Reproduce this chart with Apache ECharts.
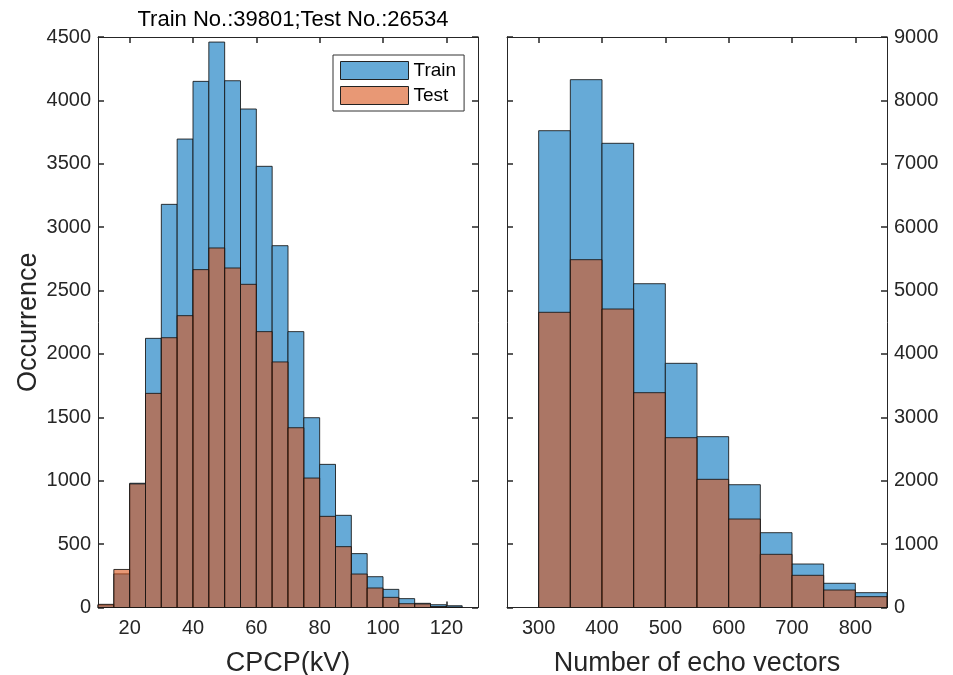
<!DOCTYPE html>
<html>
<head>
<meta charset="utf-8">
<script src="https://cdn.jsdelivr.net/npm/echarts@6/dist/echarts.min.js"></script>
<style>html,body{margin:0;padding:0;background:#fff}#c{width:953px;height:675px}</style>
</head>
<body>
<div id="c"></div>
<script>
// ---- data ----
var titleText = 'Train No.:39801;Test No.:26534';
var cpcpEdges = [10,15,20,25,30,35,40,45,50,55,60,65,70,75,80,85,90,95,100,105,110,115,120,125];
var cpcpTrain = [20,265,980,2123,3180,3695,4150,4460,4155,3932,3480,2854,2176,1497,1129,727,425,243,143,70,33,22,14];
var cpcpTest  = [25,300,975,1689,2128,2302,2665,2836,2678,2549,2176,1937,1418,1021,719,480,264,154,80,30,28,8,4];
var echoEdges = [300,350,400,450,500,550,600,650,700,750,800,850];
var echoTrain = [7522,8327,7323,5108,3852,2695,1937,1180,686,382,234];
var echoTest  = [4657,5487,4709,3389,2679,2022,1396,839,508,276,171];
var cpcpTicks = [20,40,60,80,100,120];
var echoTicks = [300,400,500,600,700,800];

function toBins(edges, counts){
  var out=[]; for(var i=0;i<counts.length;i++){ out.push([edges[i],edges[i+1],counts[i]]); } return out;
}
var AX='#262626';
var FONT='"Liberation Sans", Arial, Helvetica, sans-serif';
var trainFill='rgb(102,170,215)';
var testFill='rgba(217,83,25,0.6)';
var edge='rgba(20,20,20,0.85)';
function plain(v){ return String(v); }

function render(fill){
  return function(params, api){
    var x0=api.value(0), x1=api.value(1), v=api.value(2);
    var p0=api.coord([x0,v]); var p1=api.coord([x1,0]);
    return {type:'rect', shape:{x:p0[0], y:p0[1], width:p1[0]-p0[0], height:p1[1]-p0[1]},
      style:{fill:fill, stroke:edge, lineWidth:1}};
  };
}
function xAx(grid, min, max, ticks, pos, labels, name){
  return {type:'value', gridIndex:grid, position:pos, min:min, max:max,
    axisLine:{show:true, onZero:false, lineStyle:{color:AX, width:1}},
    axisTick:{show:true, inside:true, length:6, customValues:ticks, lineStyle:{color:AX, width:1.5}},
    axisLabel:{show:labels, customValues:ticks, formatter:plain, color:AX, fontSize:20, fontFamily:FONT, margin:11},
    splitLine:{show:false},
    name:name||'', nameLocation:'middle', nameGap:43,
    nameTextStyle:{color:AX, fontSize:27, fontFamily:FONT}};
}
function yAx(grid, max, interval, pos, labels, name){
  return {type:'value', gridIndex:grid, position:pos, min:0, max:max, interval:interval,
    axisLine:{show:true, onZero:false, lineStyle:{color:AX, width:1}},
    axisTick:{show:true, inside:true, length:6, lineStyle:{color:AX, width:1.5}},
    axisLabel:{show:labels, formatter:plain, color:AX, fontSize:20, fontFamily:FONT, margin:7},
    splitLine:{show:false},
    name:name||'', nameLocation:'middle', nameGap:56, nameRotate:90,
    nameTextStyle:{color:AX, fontSize:27, fontFamily:FONT}};
}

var chart=echarts.init(document.getElementById('c'), null, {renderer:'canvas'});
chart.setOption({
  backgroundColor:'#fff',
  animation:false,
  title:{text:titleText, left:288, top:4, textAlign:'center',
    textStyle:{color:'#000', fontSize:22, fontWeight:'normal', fontFamily:FONT}},
  legend:{orient:'vertical', left:333, top:55, itemWidth:68, itemHeight:18, itemGap:6,
    padding:[6,8,6,7], borderColor:'#333', borderWidth:1, backgroundColor:'#fff',
    textStyle:{color:'#000', fontSize:19, fontFamily:FONT}, selectedMode:false,
    data:[
      {name:'Train', icon:'rect', itemStyle:{color:trainFill, borderColor:'#222', borderWidth:1}},
      {name:'Test', icon:'rect', itemStyle:{color:'rgb(232,152,117)', borderColor:'#222', borderWidth:1}}
    ]},
  grid:[
    {left:98, top:37, width:380, height:570.5, containLabel:false, outerBoundsMode:'none'},
    {left:507, top:37, width:380, height:570.5, containLabel:false, outerBoundsMode:'none'}
  ],
  xAxis:[
    xAx(0,10,130,cpcpTicks,'bottom',true,'CPCP(kV)'),
    xAx(0,10,130,cpcpTicks,'top',false),
    xAx(1,250,850,echoTicks,'bottom',true,'Number of echo vectors'),
    xAx(1,250,850,echoTicks,'top',false)
  ],
  yAxis:[
    yAx(0,4500,500,'left',true,'Occurrence'),
    yAx(0,4500,500,'right',false),
    yAx(1,9000,1000,'right',true),
    yAx(1,9000,1000,'left',false)
  ],
  series:[
    {name:'Train', type:'custom', xAxisIndex:0, yAxisIndex:0, data:toBins(cpcpEdges,cpcpTrain),
      renderItem:render(trainFill), encode:{x:[0,1], y:2}, itemStyle:{color:trainFill}},
    {name:'Test', type:'custom', xAxisIndex:0, yAxisIndex:0, data:toBins(cpcpEdges,cpcpTest),
      renderItem:render(testFill), encode:{x:[0,1], y:2}, itemStyle:{color:'rgb(232,152,117)'}},
    {name:'Train', type:'custom', xAxisIndex:2, yAxisIndex:2, data:toBins(echoEdges,echoTrain),
      renderItem:render(trainFill), encode:{x:[0,1], y:2}, itemStyle:{color:trainFill}},
    {name:'Test', type:'custom', xAxisIndex:2, yAxisIndex:2, data:toBins(echoEdges,echoTest),
      renderItem:render(testFill), encode:{x:[0,1], y:2}, itemStyle:{color:'rgb(232,152,117)'}}
  ]
});
</script>
</body>
</html>
